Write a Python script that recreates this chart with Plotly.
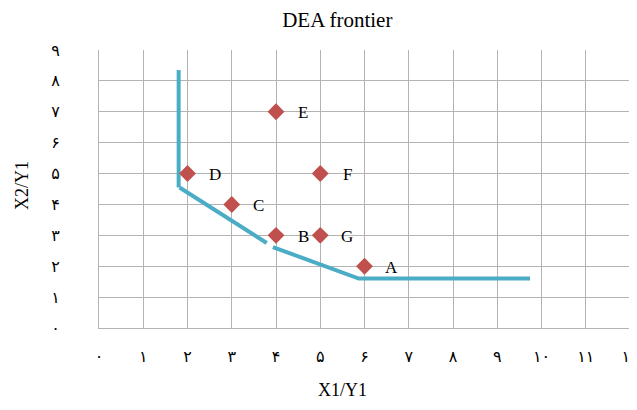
import plotly.graph_objects as go

# DMU points
labels = ["A", "B", "C", "D", "E", "F", "G"]
x_vals = [6, 4, 3, 2, 4, 5, 5]
y_vals = [2, 3, 4, 5, 7, 5, 3]

# Frontier segments (hand-drawn in the original)
seg1_x = [1.8, 1.8]
seg1_y = [8.35, 4.55]
seg2_x = [1.82, 3.79]
seg2_y = [4.55, 2.75]
seg3_x = [3.93, 5.87, 9.74]
seg3_y = [2.62, 1.6, 1.6]

# Tick labels (Persian digits)
x_ticks = list(range(0, 13))
x_ticktext = ["۰", "۱", "۲", "۳", "۴", "۵", "۶", "۷", "۸", "۹", "۱۰", "۱۱", "۱۲"]
y_ticks = list(range(0, 10))
y_ticktext = ["۰", "۱", "۲", "۳", "۴", "۵", "۶", "۷", "۸", "۹"]

line_color = "#4bacc6"
marker_color = "#c0504d"
serif = "Liberation Serif, Times New Roman, serif"

fig = go.Figure()
for sx, sy in [(seg1_x, seg1_y), (seg2_x, seg2_y), (seg3_x, seg3_y)]:
    fig.add_trace(go.Scatter(x=sx, y=sy, mode="lines",
                             line=dict(color=line_color, width=4),
                             showlegend=False, hoverinfo="skip"))

fig.add_trace(go.Scatter(x=x_vals, y=y_vals, mode="markers",
                         marker=dict(symbol="diamond", size=13, color=marker_color),
                         showlegend=False))

for lab, xv, yv in zip(labels, x_vals, y_vals):
    fig.add_annotation(x=xv, y=yv, text=lab, showarrow=False, xshift=27, yshift=-1,
                       font=dict(family=serif, size=17, color="black"))

grid_col = "#b3b3b3"
fig.update_layout(
    width=637, height=402,
    margin=dict(l=91, r=15, t=42, b=82),
    paper_bgcolor="white", plot_bgcolor="white",
    title=dict(text="DEA frontier", x=0.517, xanchor="center", y=0.97, yanchor="middle",
               font=dict(family=serif, size=21, color="black")),
    xaxis=dict(range=[0, 12], tickvals=x_ticks, ticktext=x_ticktext,
               showgrid=True, gridcolor=grid_col, gridwidth=1,
               showline=True, linecolor=grid_col, zeroline=False,
               ticks="outside", ticklen=14, tickcolor="rgba(0,0,0,0)",
               tickfont=dict(family="DejaVu Sans", size=16, color="black"),
               automargin=False),
    yaxis=dict(range=[0, 9], tickvals=y_ticks, ticktext=y_ticktext,
               showgrid=True, gridcolor=grid_col, gridwidth=1,
               showline=True, linecolor=grid_col, zeroline=False,
               ticks="outside", ticklen=35, tickcolor="rgba(0,0,0,0)",
               tickfont=dict(family="DejaVu Sans", size=16, color="black"),
               automargin=False),
)
fig.add_annotation(text="X1/Y1", xref="paper", yref="paper", x=0.459, y=-0.223,
                   xanchor="center", yanchor="middle", showarrow=False,
                   font=dict(family=serif, size=18, color="black"))
fig.add_annotation(text="X2/Y1", xref="paper", yref="paper", x=-0.145, y=0.511,
                   xanchor="center", yanchor="middle", showarrow=False, textangle=-90,
                   font=dict(family=serif, size=18, color="black"))

fig.write_html("out.html")
